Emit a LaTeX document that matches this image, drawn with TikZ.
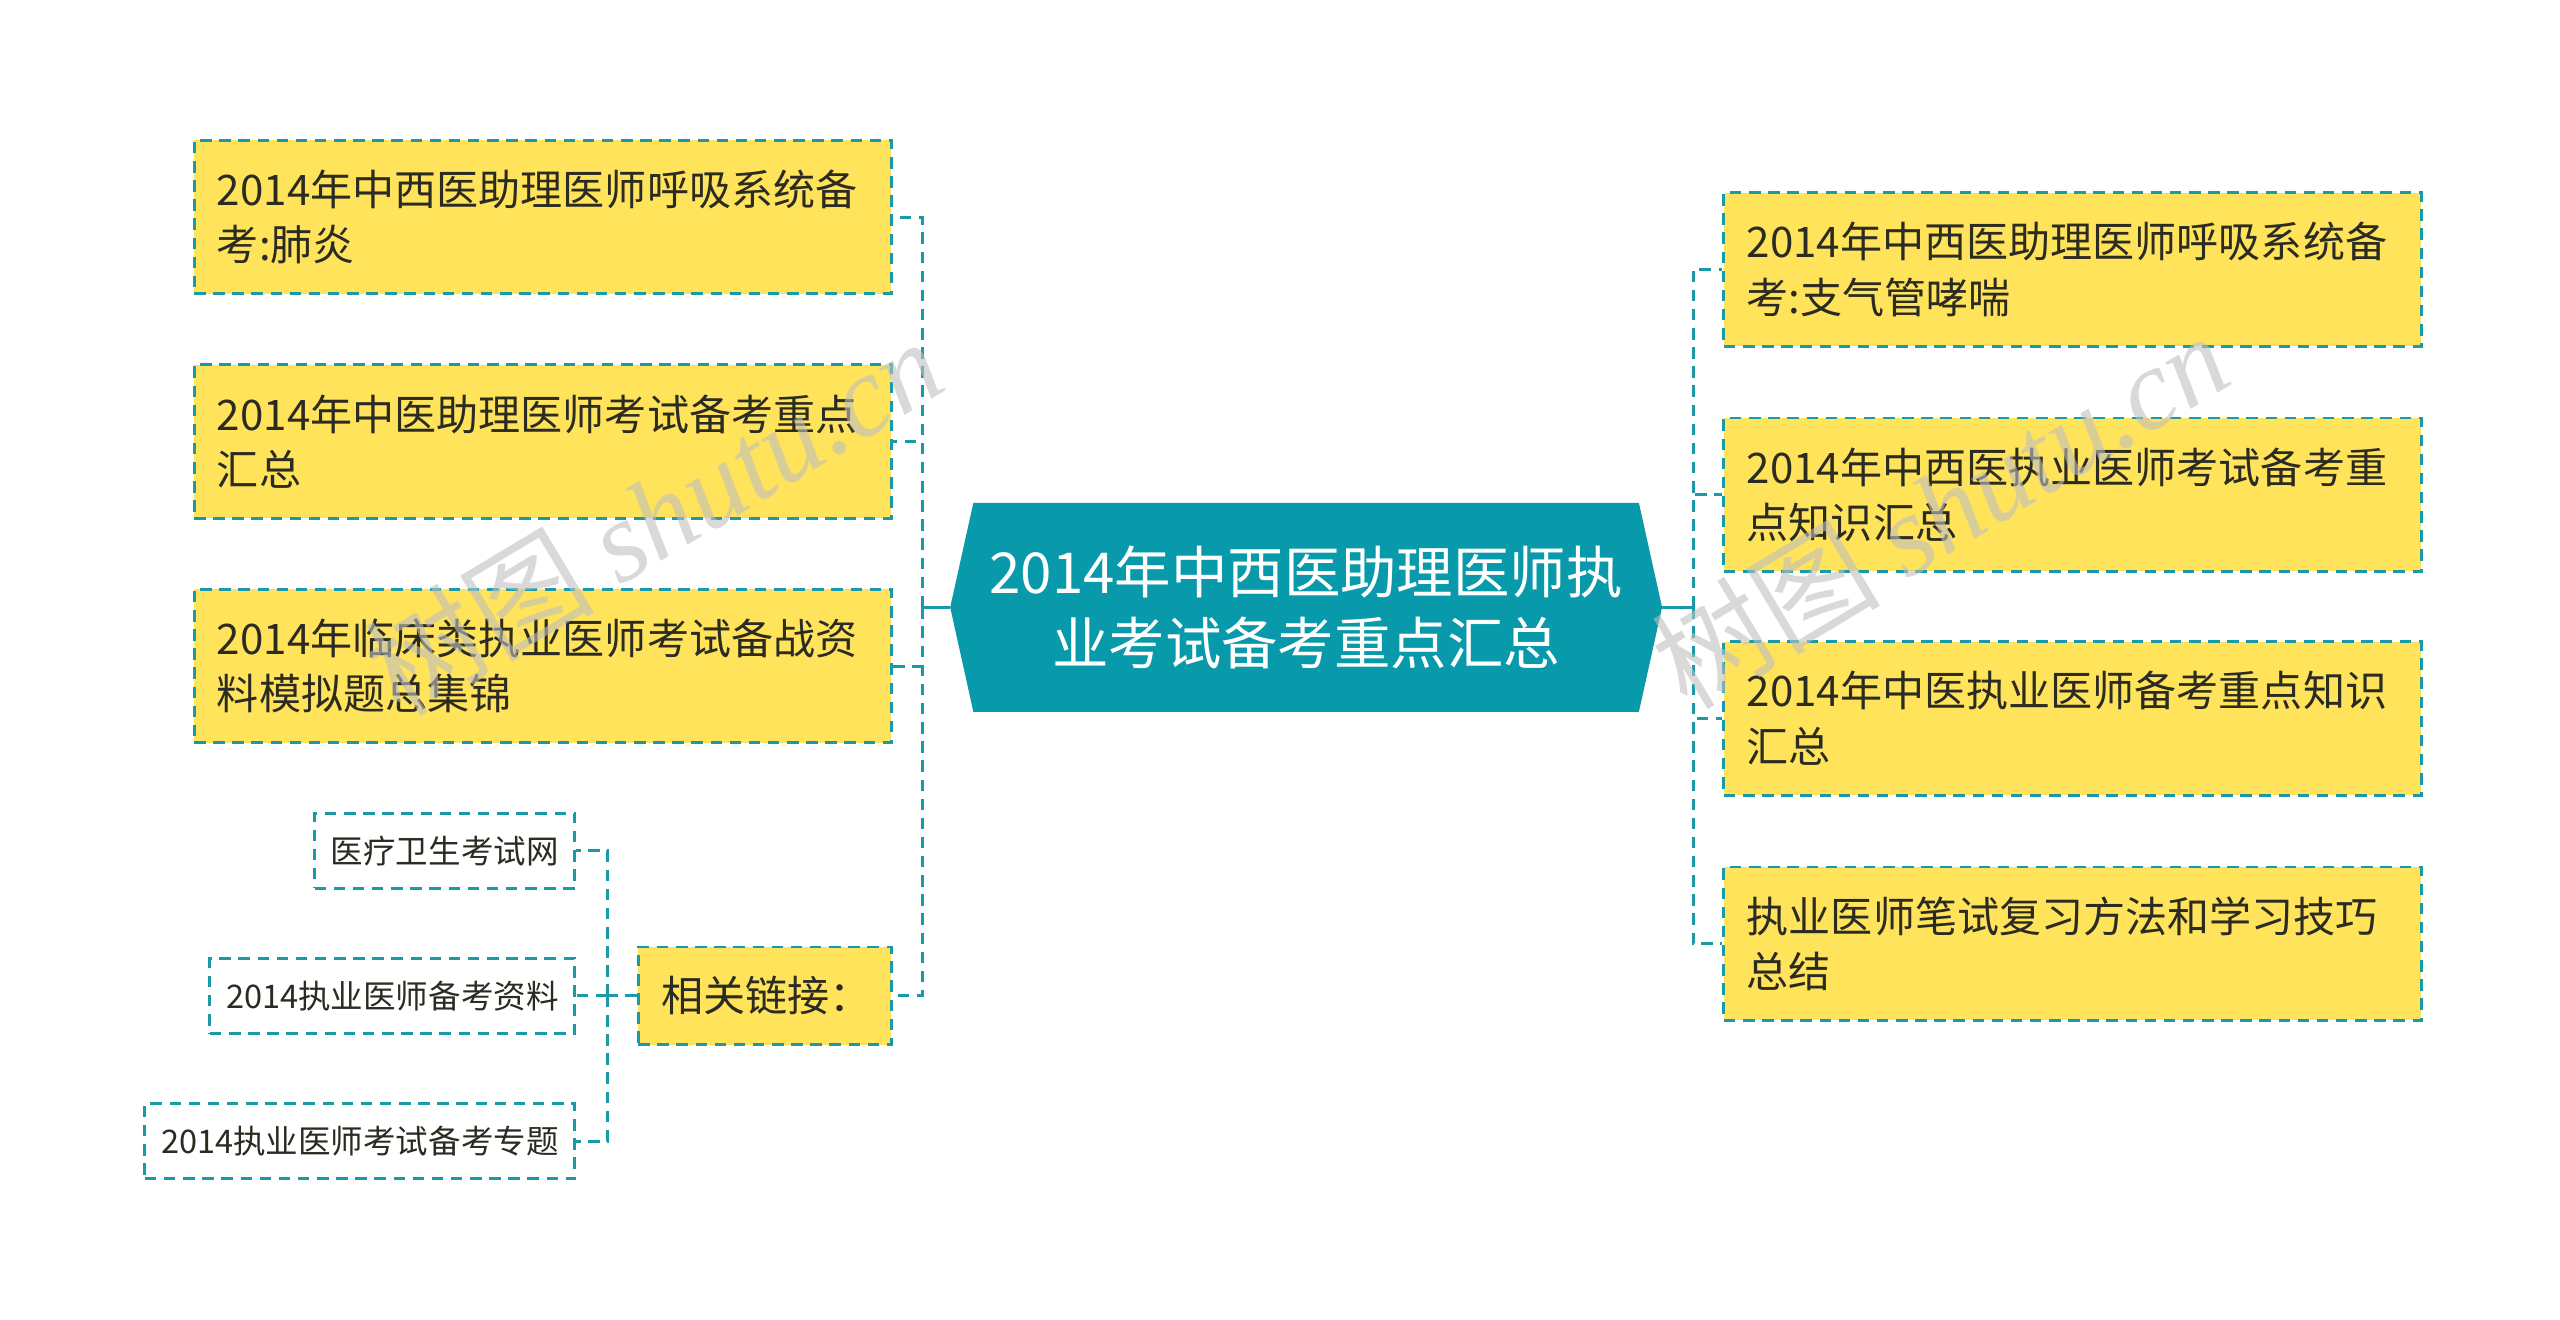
\documentclass[tikz,border=0pt]{standalone}
\usepackage{fontspec}
\setmainfont{Noto Sans CJK SC}
\newfontfamily\wmfont{Liberation Serif}
\usetikzlibrary{positioning, calc, shapes.symbols}
\definecolor{myyellow}{HTML}{FFE45B}
\definecolor{myteal}{HTML}{1A9AA8}
\definecolor{myroot}{HTML}{0899AA}
\definecolor{mytext}{HTML}{2B2B22}
\tikzset{
	boxnode/.style={
			rectangle,
			draw=myteal,
			fill=myyellow,
			line width=1.5pt,
			dash pattern=on 6pt off 4pt,
			text=mytext,
			anchor=west,
			minimum width=12.81cm,
			minimum height=2.82cm,
			text width=11.97cm,
			inner xsep=0.42cm,
			align=left,
			font=\fontsize{22pt}{29pt}\selectfont
		},
	linknode/.style={
			boxnode,
			minimum width=4.65cm,
			minimum height=1.8cm,
			text width=3.81cm
		},
	subnode/.style={
			rectangle,
			draw=myteal,
			fill=white,
			line width=1.5pt,
			dash pattern=on 6pt off 4pt,
			text=mytext,
			anchor=east,
			minimum height=1.38cm,
			inner xsep=0.3cm,
			font=\fontsize{17pt}{22pt}\selectfont
		},
	rootnode/.style={
			shape=signal,
			signal to=west and east,
			signal pointer angle=155,
			fill=myroot,
			draw=none,
			text=white,
			minimum width=13.08cm,
			minimum height=3.84cm,
			align=center,
			font=\fontsize{29.5pt}{37.5pt}\selectfont
		},
	link/.style={
			draw=myteal,
			line width=1.5pt,
			dash pattern=on 6pt off 4pt
		},
	stem/.style={
			draw=myteal,
			line width=1.5pt
		},
	watermark/.style={
			text=gray!50,
			opacity=0.6,
			rotate=31,
			font=\fontsize{60pt}{60pt}\selectfont
		}
}

\begin{document}
\begin{tikzpicture}[x=0.03cm, y=-0.03cm]
\useasboundingbox (0,0) rectangle (1568,808);

\node[rootnode] (root) at (800,372) {2014年中西医助理医师执\\业考试备考重点汇总};

% left side
\node[boxnode] (l1) at (118,133) {2014年中西医助理医师呼吸系统备\\考:肺炎};
\node[boxnode] (l2) at (118,270.5) {2014年中医助理医师考试备考重点\\汇总};
\node[boxnode] (l3) at (118,408) {2014年临床类执业医师考试备战资\\料模拟题总集锦};
\node[linknode] (l4) at (390,610) {相关链接：};

% right side
\node[boxnode] (r1) at (1055,165) {2014年中西医助理医师呼吸系统备\\考:支气管哮喘};
\node[boxnode] (r2) at (1055,303) {2014年中西医执业医师考试备考重\\点知识汇总};
\node[boxnode] (r3) at (1055,440) {2014年中医执业医师备考重点知识\\汇总};
\node[boxnode] (r4) at (1055,578) {执业医师笔试复习方法和学习技巧\\总结};

% links
\node[subnode] (s1) at (353,521) {医疗卫生考试网};
\node[subnode] (s2) at (353,610) {2014执业医师备考资料};
\node[subnode] (s3) at (353,699) {2014执业医师考试备考专题};

\coordinate (lj) at (565,372);
\coordinate (rj) at (1037,372);
\coordinate (sj) at (372,610);

\draw[stem] (root.west) -- (lj);
\foreach \n in {l1,l2,l3,l4}
	\draw[link] (lj) |- (\n.east);

\draw[stem] (root.east) -- (rj);
\foreach \n in {r1,r2,r3,r4}
	\draw[link] (rj) |- (\n.west);

\draw[link] (l4.west) -- (sj);
\foreach \n in {s1,s2,s3}
	\draw[link] (sj) |- (\n.east);

% watermark
\node[watermark] (w1) at (400,316) {树图 {\wmfont\itshape shutu.cn}};
\node[watermark] (w2) at (1188,312) {树图 {\wmfont\itshape shutu.cn}};
\end{tikzpicture}
\end{document}
